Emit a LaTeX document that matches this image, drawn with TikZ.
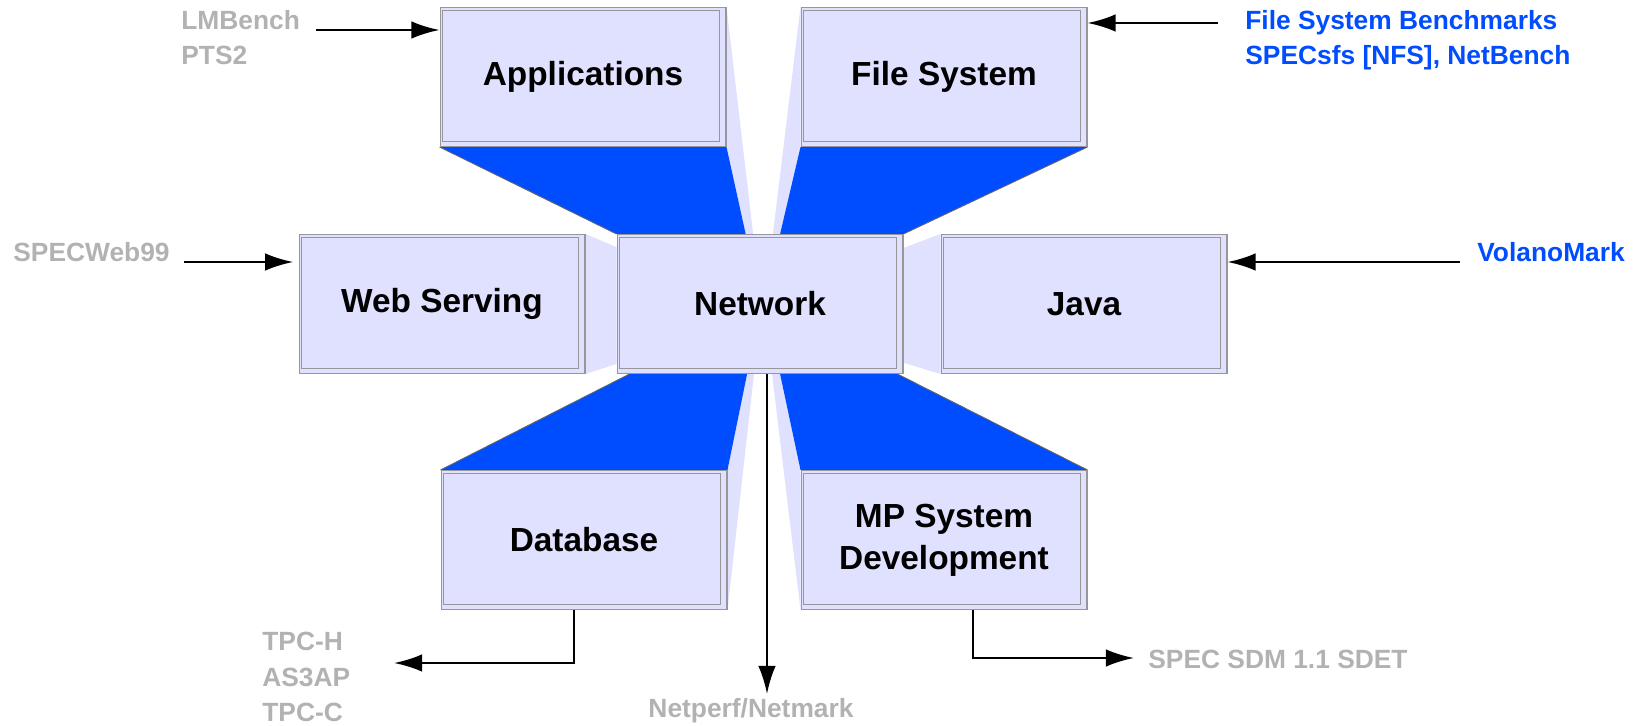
\documentclass[tikz,border=0pt]{standalone}
\usepackage{fontspec}
\setmainfont{Liberation Sans}
\usetikzlibrary{arrows.meta,calc,backgrounds}
\definecolor{lavanda}{RGB}{224,224,255}
\definecolor{azul}{RGB}{0,76,255}
\definecolor{borde}{RGB}{150,150,155}
\definecolor{gris}{RGB}{178,178,178}

\begin{document}
\begin{tikzpicture}[x=0.02cm, y=-0.02cm,
    caja/.style={draw=borde, line width=0.6pt, fill=lavanda, minimum width=5.72cm, minimum height=2.78cm,
      align=center, inner sep=0pt, font=\bfseries\fontsize{19pt}{24pt}\selectfont,
      path picture={\draw[borde, line width=0.5pt]
        ([shift={(0.04cm,-0.06cm)}]path picture bounding box.north west) rectangle
        ([shift={(-0.14cm,0.1cm)}]path picture bounding box.south east);}},
    etiq/.style={font=\bfseries\fontsize{15pt}{20pt}\selectfont, align=left, inner sep=0pt, anchor=west, text=gris},
    flecha/.style={line width=1.4pt, -{Latex[length=16pt,width=10pt]}},
    cara/.style={fill=lavanda},
    fondo/.style={fill=azul},
    arista/.style={draw=black!60, line width=0.5pt}]

    \useasboundingbox (0,0) rectangle (1647,726);

    % Cajas
    \node[caja] (app) at (583,77) {Applications};
    \node[caja] (fs) at (944,77) {File System};
    \node[caja] (web) at (442,304) {Web Serving};
    \node[caja] (net) at (760,304) {Network};
    \node[caja] (java) at (1084,304) {Java};
    \node[caja] (db) at (584,540) {Database};
    \node[caja] (mp) at (944,540) {MP System\\Development};

    % Perspectiva
    \begin{scope}[on background layer]
        \fill[cara] (app.north east) -- ($(net.north west)!.476!(net.north east)$) -- ($(net.north west)!.45!(net.north east)$) -- (app.south east) -- cycle;
        \fill[fondo] (app.south west) -- (app.south east) -- ($(net.north west)!.45!(net.north east)$) -- (net.north west) -- cycle;
        \draw[arista] (app.south west) -- (net.north west);

        \fill[cara] (fs.north west) -- (fs.south west) -- ($(net.north west)!.57!(net.north east)$) -- ($(net.north west)!.545!(net.north east)$) -- cycle;
        \fill[fondo] (fs.south west) -- (fs.south east) -- (net.north east) -- ($(net.north west)!.57!(net.north east)$) -- cycle;
        \draw[arista] (fs.south east) -- (net.north east);

        \fill[cara] (web.north east) -- ($(net.north west)!.094!(net.south west)$) -- ($(net.north west)!.928!(net.south west)$) -- (web.south east) -- cycle;
        \fill[cara] (java.north west) -- ($(net.north east)!.1!(net.south east)$) -- ($(net.north east)!.92!(net.south east)$) -- (java.south west) -- cycle;

        \fill[cara] ($(net.south west)!.455!(net.south east)$) -- ($(net.south west)!.479!(net.south east)$) -- (db.south east) -- (db.north east) -- cycle;
        \fill[fondo] ($(net.south west)!.045!(net.south east)$) -- ($(net.south west)!.455!(net.south east)$) -- (db.north east) -- (db.north west) -- cycle;
        \draw[arista] ($(net.south west)!.045!(net.south east)$) -- (db.north west);

        \fill[cara] ($(net.south west)!.542!(net.south east)$) -- ($(net.south west)!.57!(net.south east)$) -- (mp.north west) -- (mp.south west) -- cycle;
        \fill[fondo] ($(net.south west)!.57!(net.south east)$) -- ($(net.south west)!.979!(net.south east)$) -- (mp.north east) -- (mp.north west) -- cycle;
        \draw[arista] ($(net.south west)!.979!(net.south east)$) -- (mp.north east);
    \end{scope}

    % Benchmarks
    \node[etiq] (lmb) at (181,38) {LMBench\\PTS2};
    \node[etiq, text=azul] (fsb) at (1245,40) {File System Benchmarks\\SPECsfs [NFS], NetBench};
    \node[etiq] (spw) at (13,252) {SPECWeb99};
    \node[etiq, text=azul] (vol) at (1477,252) {VolanoMark};
    \node[etiq] (tpc) at (262,677) {TPC-H\\AS3AP\\TPC-C};
    \node[etiq, anchor=center] (nnm) at (751,711) {Netperf/Netmark};
    \node[etiq] (sdm) at (1148,659) {SPEC SDM 1.1 SDET};

    % Flechas
    \coordinate (lmbini) at (316,30);
    \draw[flecha] (lmbini) -- (lmbini -| app.west);
    \coordinate (fsbini) at (1218,23);
    \draw[flecha] (fsbini) -- (fsbini -| fs.east);
    \coordinate (spwini) at (184,262);
    \draw[flecha, shorten >=3pt] (spwini) -- (spwini -| web.west);
    \coordinate (volini) at (1460,262);
    \draw[flecha] (volini) -- (volini -| java.east);
    \coordinate (tpcfin) at (394,663);
    \draw[flecha] ([xshift=-0.2cm]db.south) |- (tpcfin);
    \coordinate (nnmfin) at (767,694);
    \draw[flecha] (nnmfin |- net.south) -- (nnmfin);
    \coordinate (sdmfin) at (1134,658);
    \draw[flecha] ([xshift=0.58cm]mp.south) |- (sdmfin);
\end{tikzpicture}
\end{document}
